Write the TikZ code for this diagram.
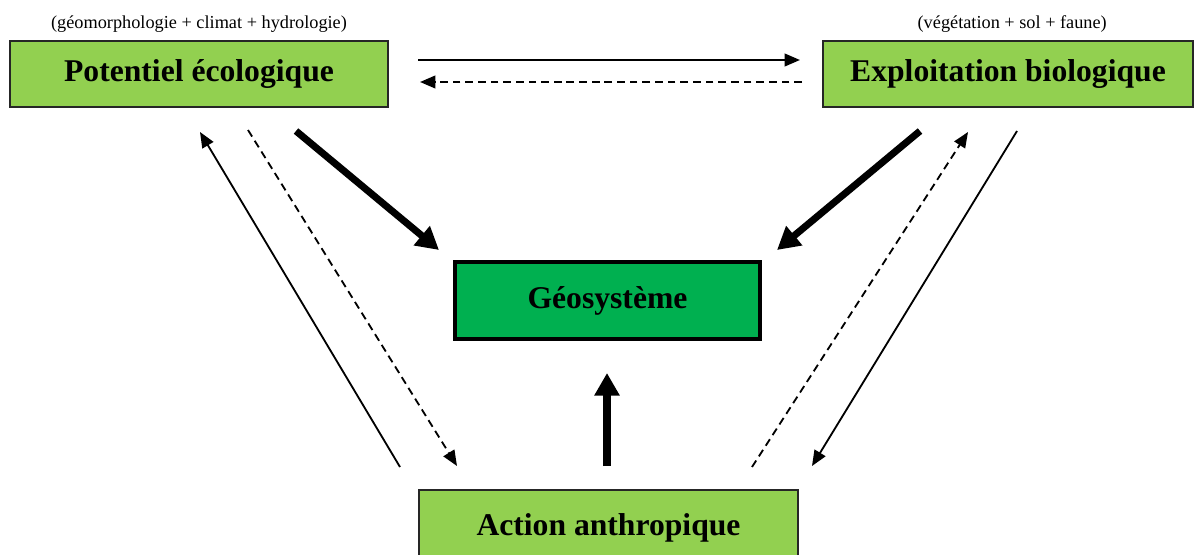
\documentclass[tikz,border=0pt]{standalone}
\usepackage{fontspec}
\setmainfont{Liberation Serif}
\usepackage{tikz}
\usetikzlibrary{arrows.meta, calc, positioning}
\definecolor{lightgreen}{HTML}{92D050}
\definecolor{darkgreen}{HTML}{00B050}
\tikzstyle{block} = [rectangle, line width=1.2pt, draw=black!85, fill=lightgreen, minimum width=9.45cm, minimum height=1.65cm, inner sep=0pt, text centered, font=\fontsize{22.5}{27}\selectfont\bfseries]
\tikzstyle{core} = [block, line width=2.4pt, draw=black, fill=darkgreen, minimum width=7.625cm, minimum height=1.925cm]
\tikzstyle{note} = [inner sep=0pt, font=\fontsize{13}{15}\selectfont]
\tikzstyle{arrow} = [line width=1.3pt, -{Triangle[length=11pt, width=9pt]}]
\tikzstyle{dasharrow} = [arrow, dash pattern=on 5.5pt off 3.5pt]
\tikzstyle{bigarrow} = [line width=5pt, -{Triangle[length=16pt, width=17pt]}]

\begin{document}
\begin{tikzpicture}[x=0.025cm, y=0.025cm, node distance = 10mm]
		\useasboundingbox (0,0) rectangle (1195,554);
		\node (Potentiel) [block] at (199,480) {Potentiel écologique};
		\node (Exploitation) [block, minimum width=9.25cm] at (1008,480) {Exploitation biologique};
		\node (Geosysteme) [core] at (607.5,253.5) {Géosystème};
		\node (Action) [block, minimum width=9.475cm, text depth=0pt, minimum height=1.75cm] at (608.5,29) {Action anthropique};
		\node (PotentielNote) [note, above = 5pt of Potentiel] {(géomorphologie + climat + hydrologie)};
		\node (ExploitationNote) [note, above = 5pt of Exploitation, xshift=3pt] {(végétation + sol + faune)};
		% free ends of the connectors
		\coordinate (TopA) at (418,494);
		\coordinate (TopB) at (800,494);
		\coordinate (TopC) at (802,472);
		\coordinate (TopD) at (420,472);
		\coordinate (PotGeoA) at (296,423);
		\coordinate (PotGeoB) at (439,304);
		\coordinate (ExpGeoA) at (920,423);
		\coordinate (ExpGeoB) at (777,304);
		\coordinate (ActGeoA) at (607,88);
		\coordinate (ActGeoB) at (607,181);
		\coordinate (LeftA) at (400,87);
		\coordinate (LeftB) at (200,422);
		\coordinate (LeftC) at (248,424);
		\coordinate (LeftD) at (457,88);
		\coordinate (RightA) at (752,87);
		\coordinate (RightB) at (968,422);
		\coordinate (RightC) at (1017,423);
		\coordinate (RightD) at (812,88);
		\draw [arrow, line width=1.6pt] (TopA) -- (TopB);
		\draw [dasharrow, line width=1.6pt] (TopC) -- (TopD);
		\draw [bigarrow] (PotGeoA) -- (PotGeoB);
		\draw [bigarrow] (ExpGeoA) -- (ExpGeoB);
		\draw [bigarrow] (ActGeoA) -- (ActGeoB);
		\draw [arrow] (LeftA) -- (LeftB);
		\draw [dasharrow] (LeftC) -- (LeftD);
		\draw [dasharrow] (RightA) -- (RightB);
		\draw [arrow] (RightC) -- (RightD);
\end{tikzpicture}
\end{document}
